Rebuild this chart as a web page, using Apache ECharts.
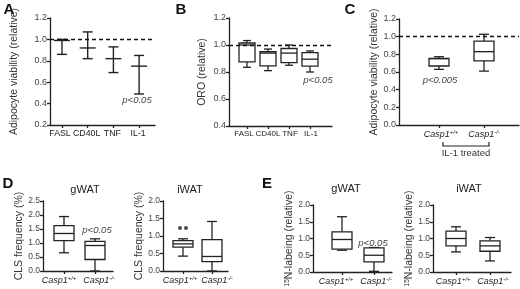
<!DOCTYPE html>
<html><head><meta charset="utf-8">
<script src="https://cdn.jsdelivr.net/npm/echarts@6/dist/echarts.min.js"></script>
<style>html,body{margin:0;padding:0;background:#fff}#c{width:520px;height:289px}</style>
</head><body><div id="c"></div>
<script>
// ---------- DATA ----------
// Panel A: mean with error bars
const catsA = ['FASL', 'CD40L', 'TNF', 'IL-1'];
const meanA = [0.99, 0.92, 0.82, 0.75];
const lowA  = [0.86, 0.82, 0.69, 0.49];
const highA = [1.00, 1.07, 0.93, 0.85];
// Panel B boxes: [min, q1, median, q3, max]
const catsB = ['FASL', 'CD40L', 'TNF', 'IL-1'];
const boxB = [[0.835, 0.875, 1.0, 1.015, 1.033], [0.81, 0.846, 0.94, 0.95, 0.97], [0.85, 0.87, 0.94, 0.974, 1.0], [0.80, 0.843, 0.895, 0.943, 0.956]];
// Genotype categories
const genoBase = 'Casp1';
const genoSup = ['+/+', '-/-'];
const boxC  = [[0.63, 0.668, 0.75, 0.755, 0.773], [0.61, 0.725, 0.83, 0.95, 1.027]];
const boxDg = [[0.65, 1.085, 1.34, 1.62, 1.945], [0.0, 0.41, 0.91, 1.06, 1.15]];
const boxDi = [[0.425, 0.68, 0.775, 0.87, 0.92], [0.0, 0.27, 0.415, 0.897, 1.415]];
const outDi = [1.23, 1.23];   // outliers, Casp1+/+
const boxEg = [[0.65, 0.68, 0.97, 1.2, 1.65], [0.02, 0.3, 0.5, 0.72, 0.73]];
const boxEi = [[0.6, 0.78, 1.0, 1.22, 1.35], [0.33, 0.62, 0.78, 0.93, 1.03]];
const refLine = 1.0;

// ---------- LAYOUT ----------
const FONT = '"Liberation Sans", Arial, sans-serif';
const INK = '#222';
const P = [
  {id:'A',  left:50,  right:155, top:18,  bottom:125, c0:62,  step:25.7, ymin:0.2, ymax:1.2, yint:0.2, gap:30, fs:8.8, dx:[-2,-1,-1,-1], name:'Adipocyte viability (relative)'},
  {id:'B',  left:229, right:332, top:18,  bottom:126, c0:247, step:21,   ymin:0.4, ymax:1.2, yint:0.2, gap:21, fs:8,   dx:[-3,0,1,1], name:'ORO (relative)'},
  {id:'C',  left:399, right:519, top:19,  bottom:125, c0:439, step:45,   ymin:0,   ymax:1.2, yint:0.2, gap:15, fs:9,   dx:[2,0], name:'Adipocyte viability (relative)'},
  {id:'Dg', left:43,  right:113, top:201, bottom:271, c0:64,  step:31,   ymin:0,   ymax:2.5, yint:0.5, gap:17, fs:9,   dx:[-5,4], name:'CLS frequency (%)'},
  {id:'Di', left:163, right:228, top:201, bottom:271, c0:183, step:29,   ymin:0,   ymax:2.0, yint:0.5, gap:17, fs:9,   dx:[-3,5], name:'CLS frequency (%)'},
  {id:'Eg', left:313, right:392, top:205, bottom:272, c0:342, step:32,   ymin:0,   ymax:2.0, yint:0.5, gap:17, fs:9,   dx:[-6,2], name:'{s|15}N-labeing (relative)'},
  {id:'Ei', left:433, right:511, top:205, bottom:272, c0:456, step:34,   ymin:0,   ymax:2.0, yint:0.5, gap:17, fs:9,   dx:[-3,3], name:'{s|15}N-labeing (relative)'}
];
const catLabels = {A: catsA, B: catsB};

const grid = [], xAxis = [], yAxis = [];
P.forEach((p, gi) => {
  grid.push({left:p.left, top:p.top, width:p.right - p.left, height:p.bottom - p.top, outerBoundsMode:'none', containLabel:false});
  const n = catLabels[p.id] ? catLabels[p.id].length : 2;
  const vals = Array.from({length:n}, (_, i) => i);
  xAxis.push({
    type:'value', gridIndex:gi,
    min:(p.left - p.c0) / p.step, max:(p.right - p.c0) / p.step,
    splitLine:{show:false},
    axisLine:{onZero:false, lineStyle:{color:INK, width:1.3}},
    axisTick:{show:true, customValues:vals, length:3, lineStyle:{color:INK, width:1.3}},
    axisLabel:{show:false}
  });
  yAxis.push({
    type:'value', gridIndex:gi, min:p.ymin, max:p.ymax, interval:p.yint,
    splitLine:{show:false},
    axisLine:{show:true, onZero:false, lineStyle:{color:INK, width:1.3}},
    axisTick:{show:true, length:3, lineStyle:{color:INK, width:1.3}},
    axisLabel:{margin:3, color:'#444', fontFamily:FONT, fontSize:gi < 3 ? 9 : 8.5, formatter:(v) => v.toFixed(1)},
    name:p.name, nameLocation:'middle', nameGap:p.gap, nameRotate:90,
    nameTextStyle:{color:'#333', fontFamily:FONT, fontSize:10.5,
      rich:{s:{fontSize:6.5, fontFamily:FONT, color:'#333', verticalAlign:'top', padding:[0,0,4,0]}}}
  });
});

// category labels drawn under the axis at each category position
function labelSeries(gi, texts) {
  const p = P[gi];
  return {
    type:'custom', xAxisIndex:gi, yAxisIndex:gi, clip:false, silent:true, z:4,
    data:texts.map((t, i) => [i, p.ymin]),
    renderItem:(params, api) => {
      const pt = api.coord([api.value(0), api.value(1)]);
      return {type:'text', style:{
        x:pt[0] + p.dx[params.dataIndex], y:pt[1] + 4, text:texts[params.dataIndex], align:'center', verticalAlign:'top',
        fill:'#222', fontFamily:FONT, fontSize:p.fs,
        rich:{
          i:{fontStyle:'italic', fontFamily:FONT, fontSize:p.fs, fill:'#222'},
          s:{fontStyle:'italic', fontFamily:FONT, fontSize:6, fill:'#222', verticalAlign:'top', padding:[0,0,4,0]}
        }
      }};
    }
  };
}
const genoTexts = genoSup.map((s) => '{i|' + genoBase + '}{s|' + s + '}');

function boxSeries(gi, data, bw, cw) {
  return {
    type:'custom', xAxisIndex:gi, yAxisIndex:gi, z:2,
    data:data.map((d, i) => [i].concat(d)),
    renderItem:(params, api) => {
      const x = api.value(0);
      const c = (k) => api.coord([x, api.value(k)]);
      const cx = c(1)[0];
      const yMin = c(1)[1], yQ1 = c(2)[1], yMed = c(3)[1], yQ3 = c(4)[1], yMax = c(5)[1];
      const st = {stroke:INK, lineWidth:1.3, fill:null};
      return {type:'group', children:[
        {type:'line', shape:{x1:cx, y1:yMax, x2:cx, y2:yQ3}, style:st},
        {type:'line', shape:{x1:cx, y1:yQ1, x2:cx, y2:yMin}, style:st},
        {type:'line', shape:{x1:cx - cw, y1:yMax, x2:cx + cw, y2:yMax}, style:st},
        {type:'line', shape:{x1:cx - cw, y1:yMin, x2:cx + cw, y2:yMin}, style:st},
        {type:'rect', shape:{x:cx - bw, y:yQ3, width:2 * bw, height:yQ1 - yQ3}, style:{fill:'#fff', stroke:INK, lineWidth:1.3}},
        {type:'line', shape:{x1:cx - bw, y1:yMed, x2:cx + bw, y2:yMed}, style:st}
      ]};
    }
  };
}
function refSeries(gi) {
  return {type:'line', xAxisIndex:gi, yAxisIndex:gi, data:[], z:5,
    markLine:{silent:true, symbol:['none','none'], label:{show:false},
      lineStyle:{color:'#111', type:[4,3], width:1.3}, data:[{yAxis:refLine}]}};
}

const series = [
  {
    type:'custom', xAxisIndex:0, yAxisIndex:0, z:2,
    data:meanA.map((m, i) => [i, m, lowA[i], highA[i]]),
    renderItem:(params, api) => {
      const x = api.value(0);
      const pm = api.coord([x, api.value(1)]);
      const pl = api.coord([x, api.value(2)]);
      const ph = api.coord([x, api.value(3)]);
      const cx = pm[0], st = {stroke:INK, lineWidth:1.4, fill:null};
      return {type:'group', children:[
        {type:'line', shape:{x1:cx, y1:ph[1], x2:cx, y2:pl[1]}, style:st},
        {type:'line', shape:{x1:cx - 5, y1:ph[1], x2:cx + 5, y2:ph[1]}, style:st},
        {type:'line', shape:{x1:cx - 5, y1:pl[1], x2:cx + 5, y2:pl[1]}, style:st},
        {type:'line', shape:{x1:cx - 8, y1:pm[1], x2:cx + 8, y2:pm[1]}, style:st}
      ]};
    }
  },
  refSeries(0),
  boxSeries(1, boxB, 8, 4),
  refSeries(1),
  boxSeries(2, boxC, 10, 5),
  refSeries(2),
  boxSeries(3, boxDg, 10, 5),
  boxSeries(4, boxDi, 10, 5),
  {type:'scatter', xAxisIndex:4, yAxisIndex:4, symbolSize:4, itemStyle:{color:INK}, z:3,
    data:outDi.map((v, k) => ({value:[0, v], symbolOffset:[k === 0 ? -3 : 3, 0]}))},
  boxSeries(5, boxEg, 10, 5),
  boxSeries(6, boxEi, 10, 5),
  labelSeries(0, catsA),
  labelSeries(1, catsB),
  labelSeries(2, genoTexts),
  labelSeries(3, genoTexts),
  labelSeries(4, genoTexts),
  labelSeries(5, genoTexts),
  labelSeries(6, genoTexts)
];

const txt = (x, y, s, o) => Object.assign({type:'text', x, y, style:Object.assign({text:s, fill:'#111', font:'10px ' + FONT, textAlign:'center', textVerticalAlign:'middle'}, o || {})});
const graphic = [
  txt(9, 10, 'A', {font:'bold 15px ' + FONT}),
  txt(181, 10, 'B', {font:'bold 15px ' + FONT}),
  txt(350, 10, 'C', {font:'bold 15px ' + FONT}),
  txt(8, 184, 'D', {font:'bold 15px ' + FONT}),
  txt(267, 184, 'E', {font:'bold 15px ' + FONT}),
  txt(137, 100, 'p<0.05', {font:'italic 9.5px ' + FONT, fill:'#444'}),
  txt(318, 80, 'p<0.05', {font:'italic 9.5px ' + FONT, fill:'#444'}),
  txt(440, 80, 'p<0.005', {font:'italic 9.5px ' + FONT, fill:'#444'}),
  txt(97, 230, 'p<0.05', {font:'italic 9.5px ' + FONT, fill:'#444'}),
  txt(373, 243, 'p<0.05', {font:'italic 9.5px ' + FONT, fill:'#444'}),
  txt(85, 190, 'gWAT', {font:'11px ' + FONT, fill:'#222'}),
  txt(190, 190, 'iWAT', {font:'11px ' + FONT, fill:'#222'}),
  txt(346, 189, 'gWAT', {font:'11px ' + FONT, fill:'#222'}),
  txt(469, 189, 'iWAT', {font:'11px ' + FONT, fill:'#222'}),
  {type:'polyline', shape:{points:[[443,142],[443,146],[489,146],[489,142]]}, style:{stroke:INK, lineWidth:1.2, fill:null}},
  txt(466, 153, 'IL-1 treated', {font:'9.5px ' + FONT, fill:'#333'})
];

const chart = echarts.init(document.getElementById('c'), null, {renderer:'canvas'});
chart.setOption({animation:false, backgroundColor:'#fff', grid, xAxis, yAxis, series, graphic});
</script></body></html>
